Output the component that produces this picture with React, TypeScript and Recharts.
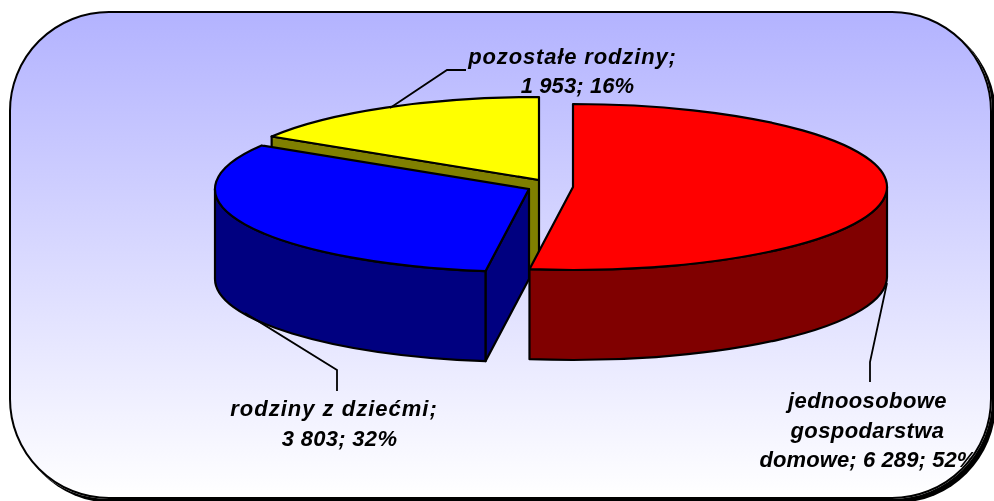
import { PieChart, Pie } from "recharts";

// paint order is back to front: yellow, blue, red
const categories = ["pozostałe rodziny", "rodziny z dziećmi", "jednoosobowe gospodarstwa domowe"];
const values = [1953, 3803, 6289];
const topColors = ["#ffff00", "#0000ff", "#ff0000"];
const wallColors = ["#808000", "#000080", "#800000"];

const labelLines = [["pozostałe rodziny;"], ["rodziny z dziećmi;"], ["jednoosobowe", "gospodarstwa", "domowe;"]];

// explode offset of each slice from the pie centre
const explode = [[-6, -5], [-16, 4], [28, 2]];
const labelAnchors = [[572.5, 63.5], [334, 416], [867.5, 408]];
const lineShift = [[0, 5], [0, 5.5], [0, 0, 0.5]];
const lineTracking = [[0.85, 0.1], [1, 0.3], [0.4, 0.4, 0.1]];
const leaders = [
  "390,108 447,70 466,70",
  "245,313 337,370 337,391",
  "887,283 870,362 870,382",
];

const ELLIPSE_RATIO = 83 / 314;
const DEPTH = 90;
const LINE_HEIGHT = 29.5;

const data = categories.map((name, i) => ({ name, value: values[i] }));

const formatValue = (v: number) => String(v).replace(/\B(?=(\d{3})+$)/g, " ");

const Slice3D = (props: any) => {
  const i = categories.indexOf(props.name);
  const rx = props.outerRadius;
  const ry = rx * ELLIPSE_RATIO;
  const cx = props.cx + explode[i][0];
  const cy = props.cy + explode[i][1];
  const a0 = props.startAngle;
  const a1 = props.endAngle;

  const pt = (deg: number, dy = 0) => {
    const r = (deg * Math.PI) / 180;
    return `${cx + rx * Math.cos(r)} ${cy - ry * Math.sin(r) + dy}`;
  };
  const large = a1 - a0 > 180 ? 1 : 0;
  const cos0 = Math.cos((a0 * Math.PI) / 180);
  const cos1 = Math.cos((a1 * Math.PI) / 180);

  // only the front half of the rim shows a wall
  const from = Math.max(a0, 180);
  const to = Math.min(a1, 360);

  const common = { stroke: "#000", strokeWidth: 2.2, strokeLinejoin: "round" as const };

  return (
    <g>
      {cos0 > 1e-6 && (
        <path d={`M${cx} ${cy} L${pt(a0)} L${pt(a0, DEPTH)} L${cx} ${cy + DEPTH} Z`} fill={wallColors[i]} {...common} />
      )}
      {cos1 < -1e-6 && (
        <path d={`M${cx} ${cy} L${pt(a1)} L${pt(a1, DEPTH)} L${cx} ${cy + DEPTH} Z`} fill={wallColors[i]} {...common} />
      )}
      {from < to && (
        <path
          d={`M${pt(from)} A${rx} ${ry} 0 0 0 ${pt(to)} L${pt(to, DEPTH)} A${rx} ${ry} 0 0 1 ${pt(from, DEPTH)} Z`}
          fill={wallColors[i]}
          {...common}
        />
      )}
      <path d={`M${cx} ${cy} L${pt(a0)} A${rx} ${ry} 0 ${large} 0 ${pt(a1)} Z`} fill={topColors[i]} {...common} />
    </g>
  );
};

const SliceLabel = (props: any) => {
  const i = categories.indexOf(props.name);
  const tail = `${formatValue(props.value)}; ${Math.round(props.percent * 100)}%`;
  const lines = [...labelLines[i]];
  // the long category keeps its numbers on the last line
  if (lines.length > 2) lines[2] = `${lines[2]} ${tail}`;
  else lines.push(tail);
  const [x, y] = labelAnchors[i];
  return (
    <g>
      <polyline points={leaders[i]} fill="none" stroke="#000" strokeWidth={1.8} />
      <text
        x={x}
        y={y}
        textAnchor="middle"
        fontFamily="'Liberation Sans', Arial, sans-serif"
        fontWeight="bold"
        fontStyle="italic"
        fontSize={22}
        fill="#000"
      >
        {lines.map((line, n) => (
          <tspan key={n} x={x + lineShift[i][n]} y={y + n * LINE_HEIGHT} letterSpacing={lineTracking[i][n]}>
            {line}
          </tspan>
        ))}
      </text>
    </g>
  );
};

export default function App() {
  return (
    <div
      style={{
        position: "fixed",
        left: 9,
        top: 11,
        width: 979,
        height: 484,
        border: "2px solid #000",
        borderRadius: 100,
        boxShadow: "4px 4px 0 #000",
        background: "linear-gradient(#b3b3ff, #ffffff)",
        overflow: "hidden",
      }}
    >
      <div style={{ position: "absolute", left: -11, top: -13 }}>
        <PieChart width={994} height={501} margin={{ top: 0, right: 0, bottom: 0, left: 0 }}>
          <Pie
            data={data}
            dataKey="value"
            nameKey="name"
            cx={545}
            cy={185}
            outerRadius={314}
            startAngle={90}
            endAngle={450}
            stroke="none"
            shape={Slice3D}
            label={SliceLabel}
            labelLine={false}
            isAnimationActive={false}
          />
        </PieChart>
      </div>
    </div>
  );
}
